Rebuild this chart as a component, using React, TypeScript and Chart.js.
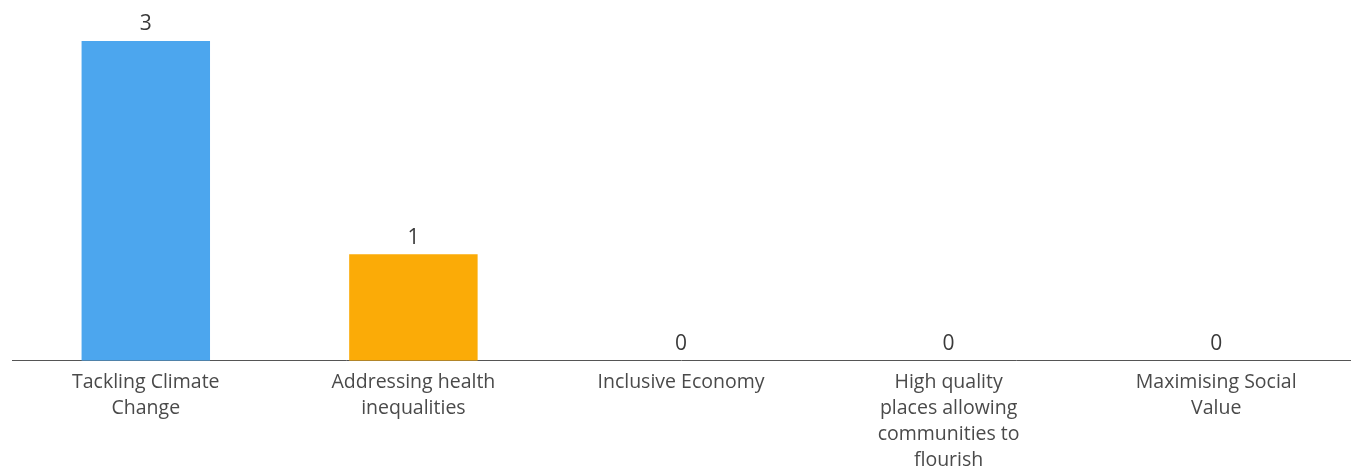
import React, { useEffect, useRef } from "react";
import { Chart, registerables } from "chart.js";

Chart.register(...registerables);

const categories: string[][] = [
  ["Tackling Climate", "Change"],
  ["Addressing health", "inequalities"],
  ["Inclusive Economy"],
  ["High quality", "places allowing", "communities to", "flourish"],
  ["Maximising Social", "Value"],
];
const values: number[] = [3, 1, 0, 0, 0];
const barColors: string[] = ["#4ca6ee", "#fbab07", "#7cc576", "#e5534b", "#9b6fd0"];

const valueLabels = {
  id: "valueLabels",
  afterDatasetsDraw(chart: any) {
    const ctx = chart.ctx;
    const meta = chart.getDatasetMeta(0);
    ctx.save();
    ctx.font = "21px 'Open Sans'";
    ctx.fillStyle = "#3a3a3a";
    ctx.textAlign = "center";
    ctx.textBaseline = "bottom";
    meta.data.forEach((bar: any, i: number) => {
      ctx.fillText(String(values[i]), bar.x, bar.y - 6);
    });
    ctx.restore();
  },
};

export default function App() {
  const ref = useRef<HTMLCanvasElement | null>(null);
  useEffect(() => {
    if (!ref.current) return;
    const chart = new Chart(ref.current, {
      type: "bar",
      data: {
        labels: categories,
        datasets: [
          {
            data: values,
            backgroundColor: barColors,
            barPercentage: 0.6,
            categoryPercentage: 0.8,
          },
        ],
      },
      options: {
        animation: false,
        responsive: false,
        maintainAspectRatio: false,
        layout: { padding: { left: 12, right: 19, top: 41, bottom: -14.5 } },
        plugins: { legend: { display: false }, tooltip: { enabled: false } },
        scales: {
          y: { display: false, min: 0, max: 3 },
          x: {
            grid: { display: false, drawTicks: false },
            border: { display: true, color: "#555", width: 1 },
            ticks: {
              color: "#4a4a4a",
              font: { family: "'Open Sans'", size: 19.5, lineHeight: 1.33 },
              padding: 9,
              maxRotation: 0,
              autoSkip: false,
            },
          },
        },
      },
      plugins: [valueLabels],
    });
    return () => chart.destroy();
  }, []);
  return (
    <div style={{ position: "absolute", left: 0, top: 0, width: 1369, height: 468, background: "#fff" }}>
      <canvas ref={ref} width={1369} height={468} style={{ width: 1369, height: 468 }} />
    </div>
  );
}
